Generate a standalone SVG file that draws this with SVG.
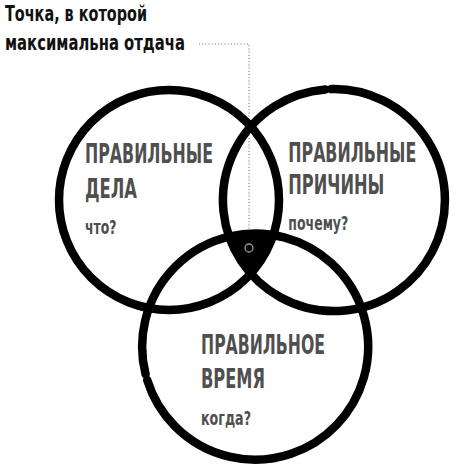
<svg xmlns="http://www.w3.org/2000/svg" width="456" height="468" viewBox="0 0 456 468">
<style>
.ring{fill:none;stroke:#000;stroke-width:8.5;stroke-linecap:round}
.lbl{font-family:"Liberation Sans Narrow","DejaVu Sans Condensed","Liberation Sans",sans-serif;font-weight:bold;fill:#4f4f4f;font-size:27px}
.q{font-family:"Liberation Sans Narrow","DejaVu Sans Condensed","Liberation Sans",sans-serif;font-weight:bold;fill:#4f4f4f;font-size:19px}
.title{font-family:"Liberation Sans Narrow","DejaVu Sans Condensed","Liberation Sans",sans-serif;font-weight:bold;fill:#111;font-size:21px}
.lead{fill:none;stroke:#777;stroke-width:1.2;stroke-dasharray:1 2.2}
</style>
<defs>
<clipPath id="cR"><circle cx="335" cy="200" r="111"/></clipPath>
<clipPath id="cB"><circle cx="255" cy="346" r="113"/></clipPath>
</defs>
<rect width="456" height="468" fill="#fff"/>
<g id="title">
<text class="title" x="5" y="21" textLength="142" lengthAdjust="spacingAndGlyphs">Точка, в которой</text>
<text class="title" x="5" y="50" textLength="180" lengthAdjust="spacingAndGlyphs">максимальна отдача</text>
</g>
<g id="connectors">
<path class="lead" d="M199 44 H249 V243"/>
</g>
<g id="center-point">
<g clip-path="url(#cR)"><circle cx="169" cy="200" r="110" fill="#000" clip-path="url(#cB)"/></g>
</g>
<g id="right-things">
<circle class="ring" cx="169" cy="200" r="110"/>
<text class="lbl" x="85" y="163" textLength="128" lengthAdjust="spacingAndGlyphs">ПРАВИЛЬНЫЕ</text>
<text class="lbl" x="85" y="197.5" textLength="52" lengthAdjust="spacingAndGlyphs">ДЕЛА</text>
<text class="q" x="85" y="234.3" textLength="31.5" lengthAdjust="spacingAndGlyphs">что?</text>
</g>
<g id="right-reasons">
<path class="ring" d="M331.1 89.1 A111 111 0 1 1 325.3 89.4"/>
<text class="lbl" x="288.3" y="162" textLength="128" lengthAdjust="spacingAndGlyphs">ПРАВИЛЬНЫЕ</text>
<text class="lbl" x="288.3" y="194" textLength="96" lengthAdjust="spacingAndGlyphs">ПРИЧИНЫ</text>
<text class="q" x="288.3" y="230" textLength="60" lengthAdjust="spacingAndGlyphs">почему?</text>
</g>
<g id="right-time">
<path class="ring" d="M145.6 374.3 A113 113 0 1 1 147.2 380.0" stroke-width="7.5"/>
<text class="lbl" x="201" y="354" textLength="124" lengthAdjust="spacingAndGlyphs">ПРАВИЛЬНОЕ</text>
<text class="lbl" x="201" y="387.5" textLength="64" lengthAdjust="spacingAndGlyphs">ВРЕМЯ</text>
<text class="q" x="201" y="424.5" textLength="50" lengthAdjust="spacingAndGlyphs">когда?</text>
</g>
<circle cx="249" cy="248" r="4" fill="none" stroke="#999" stroke-width="1.3"/>
</svg>
